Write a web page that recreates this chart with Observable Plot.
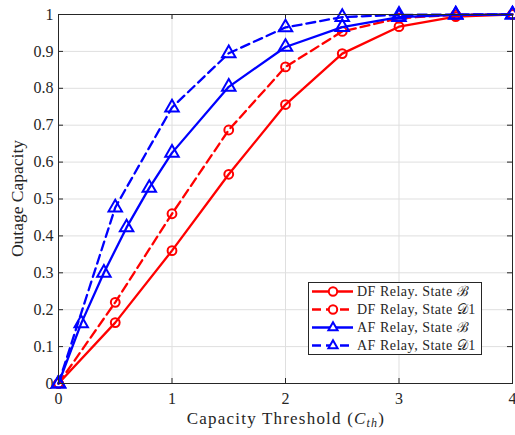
<!DOCTYPE html>
<html><head><meta charset="utf-8">
<script src="https://cdn.jsdelivr.net/npm/d3@7"></script>
<script src="https://cdn.jsdelivr.net/npm/@observablehq/plot@0.6"></script>
<style>body{margin:0;background:#fff;} svg{display:block;}</style>
</head><body><div id="chart"></div>
<script>
const xDF = [0, 0.5, 1, 1.5, 2, 2.5, 3, 3.5, 4];
const dfB = [0, 0.165, 0.36, 0.567, 0.756, 0.894, 0.967, 0.994, 1];
const dfD1 = [0, 0.22, 0.46, 0.687, 0.858, 0.954, 0.99, 0.999, 1];
const xAFB = [0, 0.2, 0.4, 0.6, 0.8, 1, 1.5, 2, 2.5, 3, 3.5, 4];
const afB = [0, 0.163, 0.3, 0.423, 0.53, 0.625, 0.804, 0.912, 0.966, 0.993, 0.999, 1];
const xAFD1 = [0, 0.5, 1, 1.5, 2, 2.5, 3, 3.5, 4];
const afD1 = [0, 0.477, 0.748, 0.895, 0.965, 0.993, 0.999, 1, 1];
const xTicks = [0, 1, 2, 3, 4];
const yTicks = [0, 0.1, 0.2, 0.3, 0.4, 0.5, 0.6, 0.7, 0.8, 0.9, 1];
const yTickLabels = ["0", "0.1", "0.2", "0.3", "0.4", "0.5", "0.6", "0.7", "0.8", "0.9", "1"];
const seriesNames = ["DF Relay. State \u212C", "DF Relay, State \uD835\uDC9F1", "AF Relay, State \u212C", "AF Relay, State \uD835\uDC9F1"];

const series = [
  {xs: xDF, ys: dfB, color: "#ff0000", dash: null, symbol: "circle"},
  {xs: xDF, ys: dfD1, color: "#ff0000", dash: "9,5", symbol: "circle"},
  {xs: xAFB, ys: afB, color: "#0000ff", dash: null, symbol: "triangle"},
  {xs: xAFD1, ys: afD1, color: "#0000ff", dash: "9,5", symbol: "triangle"}
];

const W = 515, H = 435, mL = 58, mR = 3, mT = 14, mB = 52;
const tickLenX = 5 / (H - mT - mB);
const tickLenY = 4 * 5 / (W - mL - mR);
const FONT = "'Liberation Serif', 'Times New Roman', serif";

const marks = [
  Plot.ruleX(xTicks, {stroke: "#dfdfdf", strokeWidth: 1}),
  Plot.ruleY(yTicks, {stroke: "#dfdfdf", strokeWidth: 1}),
  Plot.ruleX(xTicks, {y1: 0, y2: tickLenX, stroke: "#262626"}),
  Plot.ruleX(xTicks, {y1: 1 - tickLenX, y2: 1, stroke: "#262626"}),
  Plot.ruleY(yTicks, {x1: 0, x2: tickLenY, stroke: "#262626"}),
  Plot.ruleY(yTicks, {x1: 4 - tickLenY, x2: 4, stroke: "#262626"}),
  Plot.axisX(xTicks, {tickSize: 0, tickPadding: 9, fontSize: 16, label: null, tickFormat: d => String(d)}),
  Plot.axisY(yTicks, {tickSize: 0, tickPadding: 5, fontSize: 16, label: null, tickFormat: (d, i) => yTickLabels[i]})
];
for (const s of series) {
  const data = s.xs.map((x, i) => ({x, y: s.ys[i]}));
  marks.push(Plot.line(data, {x: "x", y: "y", stroke: s.color, strokeWidth: 2.3, strokeDasharray: s.dash}));
  marks.push(Plot.dot(data, {x: "x", y: "y", stroke: s.color, fill: "none", strokeWidth: 2, symbol: s.symbol, r: s.symbol === "circle" ? 4.4 : 5}));
}
marks.push(Plot.frame({stroke: "#262626", strokeWidth: 1}));

const chart = Plot.plot({
  width: W, height: H,
  marginLeft: mL, marginRight: mR, marginTop: mT, marginBottom: mB,
  style: {fontFamily: FONT, fontSize: "16px", color: "#262626", background: "#fff"},
  x: {domain: [0, 4]},
  y: {domain: [0, 1]},
  marks
});
document.getElementById("chart").appendChild(chart);

const svg = d3.select(chart);
svg.append("text").attr("x", 286).attr("y", 424).attr("text-anchor", "middle")
  .attr("font-size", 17).attr("letter-spacing", 1.2).attr("fill", "#262626").attr("font-family", FONT)
  .call(t => { t.append("tspan").text("Capacity Threshold ("); t.append("tspan").attr("font-style", "italic").text("C"); t.append("tspan").attr("font-style", "italic").attr("font-size", 12).attr("dy", 3).text("th"); t.append("tspan").attr("dy", -3).text(")"); });
svg.append("text").attr("transform", `translate(23,${mT + (H - mT - mB) / 2}) rotate(-90)`).attr("text-anchor", "middle")
  .attr("font-size", 17.5).attr("fill", "#262626").attr("font-family", FONT).text("Outage Capacity");

// legend
const lg = svg.append("g");
lg.append("rect").attr("x", 308.5).attr("y", 282.5).attr("width", 173).attr("height", 72).attr("fill", "#fff").attr("stroke", "#262626");
series.forEach((s, i) => {
  const cy = 291.5 + i * 18;
  lg.append("line").attr("x1", 312).attr("x2", 353).attr("y1", cy).attr("y2", cy).attr("stroke", s.color).attr("stroke-width", 2.3).attr("stroke-dasharray", s.dash);
  if (s.symbol === "circle") lg.append("circle").attr("cx", 333).attr("cy", cy).attr("r", 4.2).attr("fill", "#fff").attr("stroke", s.color).attr("stroke-width", 2);
  else lg.append("path").attr("transform", `translate(333,${cy})`).attr("d", d3.symbol(d3.symbolTriangle2, 60)()).attr("fill", "#fff").attr("stroke", s.color).attr("stroke-width", 2);
  lg.append("text").attr("x", 357).attr("y", cy + 4.8).attr("text-anchor", "start").attr("font-size", 14).attr("letter-spacing", 0.5).attr("fill", "#262626").attr("font-family", FONT).text(seriesNames[i]);
});
</script></body></html>
